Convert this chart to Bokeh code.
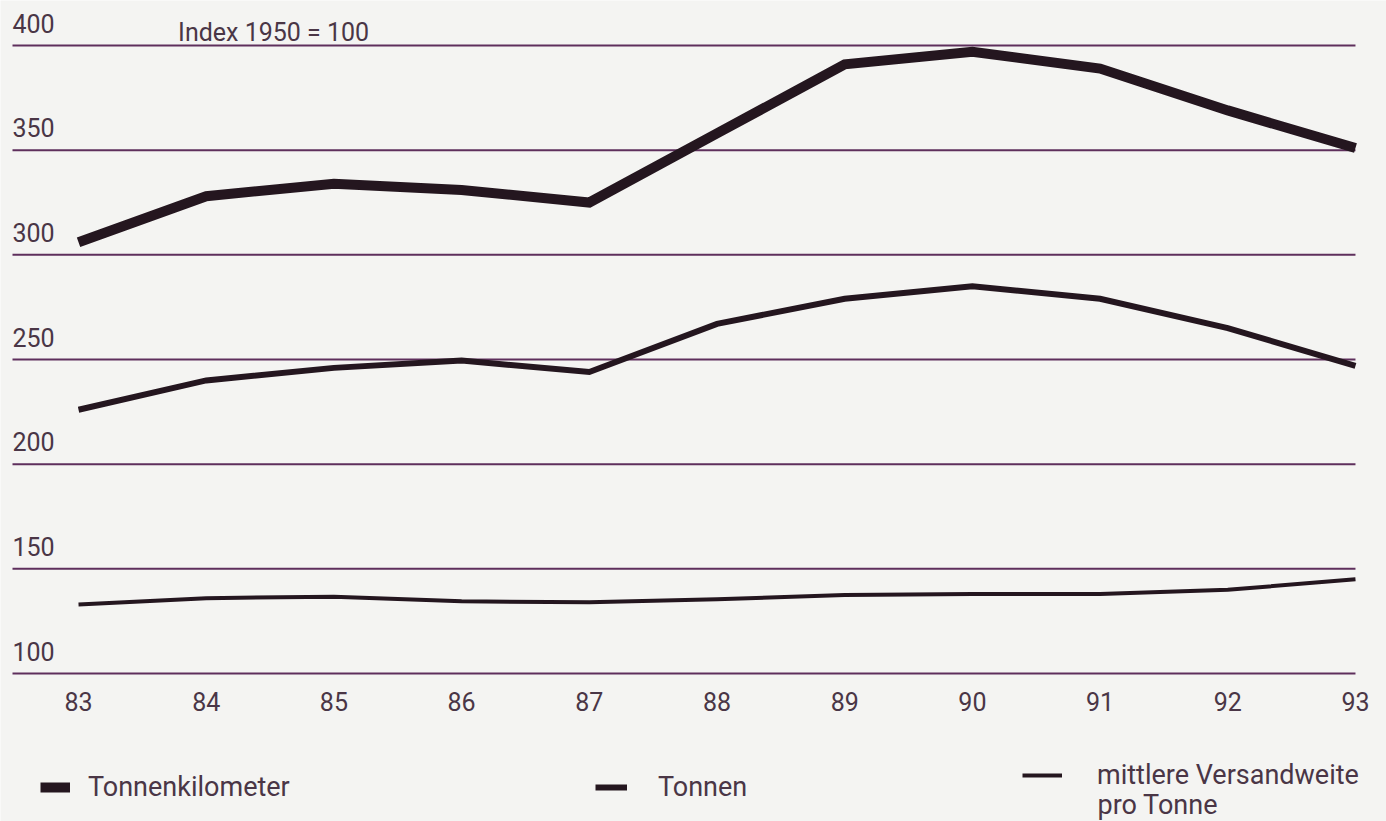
from bokeh.plotting import figure
from bokeh.models import (ColumnDataSource, LabelSet, Label, Legend, LegendItem, Range1d)
from bokeh.core.properties import value
from bokeh.embed import file_html
from bokeh.resources import INLINE

# ---- data ----
years = [83, 84, 85, 86, 87, 88, 89, 90, 91, 92, 93]
year_labels = ["83", "84", "85", "86", "87", "88", "89", "90", "91", "92", "93"]
tonnenkilometer = [306, 328, 334, 331, 325, 358, 391, 397, 389, 369, 351]
tonnen = [226, 240, 246, 249.5, 244, 267, 279, 285, 279, 265, 247]
versandweite = [133, 136, 136.7, 134.5, 134, 135.5, 137.5, 138, 138, 140, 145]
y_ticks = [100, 150, 200, 250, 300, 350, 400]
y_tick_labels = ["100", "150", "200", "250", "300", "350", "400"]
note = "Index 1950 = 100"
series_names = ["Tonnenkilometer", "Tonnen", "mittlere Versandweite", "pro Tonne"]

FONT = "Roboto"
TXT = "#4a3646"
LINE = "#24161f"
GRID = "#5e2f5c"
BG = "#f4f4f2"

p = figure(width=1386, height=821, output_backend="svg", toolbar_location=None,
           x_range=Range1d(82.389, 93.243), y_range=Range1d(29.30, 421.5),
           min_border_left=0, min_border_right=0, min_border_top=0, min_border_bottom=0)
p.axis.visible = False
p.grid.visible = False
p.outline_line_color = None
p.background_fill_color = BG
p.border_fill_color = BG

# horizontal rules at the tick values (span of the printed rules)
RULE_X0, RULE_X1 = 82.483, 93.0
p.segment(x0=[RULE_X0] * len(y_ticks), x1=[RULE_X1] * len(y_ticks), y0=y_ticks, y1=y_ticks,
          line_color=GRID, line_width=2)

r1 = p.line(years, tonnenkilometer, line_color=LINE, line_width=10, line_join="miter")
r2 = p.line(years, tonnen, line_color=LINE, line_width=6, line_join="miter")
r3 = p.line(years, versandweite, line_color=LINE, line_width=4, line_join="miter")

# y tick labels (inside, above the rules)
ysrc = ColumnDataSource(dict(x=[RULE_X0] * len(y_ticks), y=y_ticks, t=y_tick_labels))
p.add_layout(LabelSet(x="x", y="y", text="t", source=ysrc, y_offset=13,
                      text_font=value(FONT), text_font_size="25px", text_color=TXT,
                      text_baseline="alphabetic", text_align="left"))
# x tick labels
xsrc = ColumnDataSource(dict(x=years, y=[y_ticks[0]] * len(years), t=year_labels))
p.add_layout(LabelSet(x="x", y="y", text="t", source=xsrc, y_offset=-37,
                      text_font=value(FONT), text_font_size="25px", text_color=TXT,
                      text_baseline="alphabetic", text_align="center"))
p.add_layout(Label(x=83.78, y=y_ticks[-1], y_offset=13, text=note, text_font=FONT,
                   text_font_size="25px", text_color=TXT, text_baseline="alphabetic"))

def mk_legend(r, name, loc, gw, standoff):
    lg = Legend(items=[LegendItem(label=name, renderers=[r])], location=loc,
                glyph_width=gw, glyph_height=30, label_height=30, label_standoff=standoff,
                padding=0, margin=0, spacing=0, border_line_alpha=0,
                background_fill_alpha=0, label_text_font=FONT,
                label_text_font_size="27px", label_text_color=TXT)
    p.add_layout(lg)

mk_legend(r1, series_names[0], (40, 18), 30, 18)
mk_legend(r2, series_names[1], (595, 18), 32, 31)
mk_legend(r3, series_names[2], (1022, 30), 40, 35)
p.add_layout(Label(x=1097, y=17, x_units="screen", y_units="screen", text=series_names[3],
                   text_font=FONT, text_font_size="27px", text_color=TXT,
                   text_baseline="middle"))

open("out.html", "w").write(file_html(p, INLINE))
